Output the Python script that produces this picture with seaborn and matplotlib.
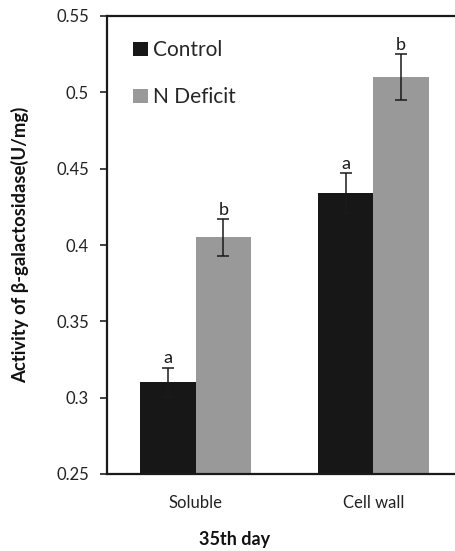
import matplotlib
matplotlib.use("Agg")
import matplotlib.pyplot as plt
import seaborn as sns
import pandas as pd

categories = ["Soluble", "Cell wall"]
groups = ["Control", "N Deficit"]
control_vals = [0.310, 0.434]
ndef_vals = [0.405, 0.510]
control_err = [0.0095, 0.013]
ndef_err = [0.012, 0.015]
control_letters = ["a", "a"]
ndef_letters = ["b", "b"]
yticks = [0.25, 0.3, 0.35, 0.4, 0.45, 0.5, 0.55]
ytick_labels = ["0.25", "0.3", "0.35", "0.4", "0.45", "0.5", "0.55"]

sns.set_theme(style="white")
plt.rcParams["font.family"] = ["Lato", "DejaVu Sans"]

df = pd.DataFrame({
    "cat": categories * 2,
    "group": [groups[0]] * 2 + [groups[1]] * 2,
    "val": control_vals + ndef_vals,
})

fig = plt.figure(figsize=(4.55, 5.51), dpi=100)
ax = fig.add_axes([107 / 455, 1 - 474 / 551, (462 - 107) / 455, (474 - 16) / 551])

palette = {"Control": "#171717", "N Deficit": "#999999"}
sns.barplot(data=df, x="cat", y="val", hue="group", order=categories,
            hue_order=groups, palette=palette, width=0.625, errorbar=None,
            saturation=1, ax=ax, linewidth=0)

ax.set_ylim(0.25, 0.55)
ax.set_xlim(-0.5, 1.5)

# Error bars and letters positioned from the drawn bars
bars = [p for p in ax.patches if p.get_height() > 0]
bars = sorted(bars, key=lambda p: p.get_x())
vals_order = [control_vals[0], ndef_vals[0], control_vals[1], ndef_vals[1]]
errs_order = [control_err[0], ndef_err[0], control_err[1], ndef_err[1]]
letters_order = [control_letters[0], ndef_letters[0], control_letters[1], ndef_letters[1]]
for p, v, e, l in zip(bars, vals_order, errs_order, letters_order):
    xc = p.get_x() + p.get_width() / 2
    ax.errorbar(xc, v, yerr=e, fmt="none", ecolor="#1a1a1a", elinewidth=1.1,
                capsize=4, capthick=1.1)
    ax.text(xc, v + e + 0.001, l, ha="center", va="bottom", fontsize=13,
            color="#1a1a1a")

ax.set_yticks(yticks)
ax.set_yticklabels(ytick_labels, fontsize=12, color="#222222")
ax.tick_params(axis="y", direction="out", length=5, width=1.2, color="#222222", pad=8, left=True)
ax.tick_params(axis="x", length=0, labelsize=12, pad=15, colors="#222222")
ax.set_xlabel("35th day", fontsize=13, fontweight="bold", color="#111111")
ax.set_ylabel("Activity of β-galactosidase(U/mg)", fontsize=13.3, fontweight="bold",
              color="#111111")
ax.xaxis.set_label_coords((235 - 107) / 355, -(531 - 474) / 458)
ax.yaxis.set_label_coords(-(107 - 29) / 355, 0.5)

for s in ["left", "top", "bottom"]:
    ax.spines[s].set_visible(True)
    ax.spines[s].set_color("#1a1a1a")
    ax.spines[s].set_linewidth(1.6)
ax.spines["right"].set_visible(False)

handles, labels = ax.get_legend_handles_labels()
ax.legend(handles, labels, loc="upper left", bbox_to_anchor=(0.05, 0.965),
          frameon=False, fontsize=15, handlelength=0.7, handleheight=0.7,
          handletextpad=0.25, labelspacing=1.3, borderaxespad=0)

fig.savefig("out.png", dpi=100)
